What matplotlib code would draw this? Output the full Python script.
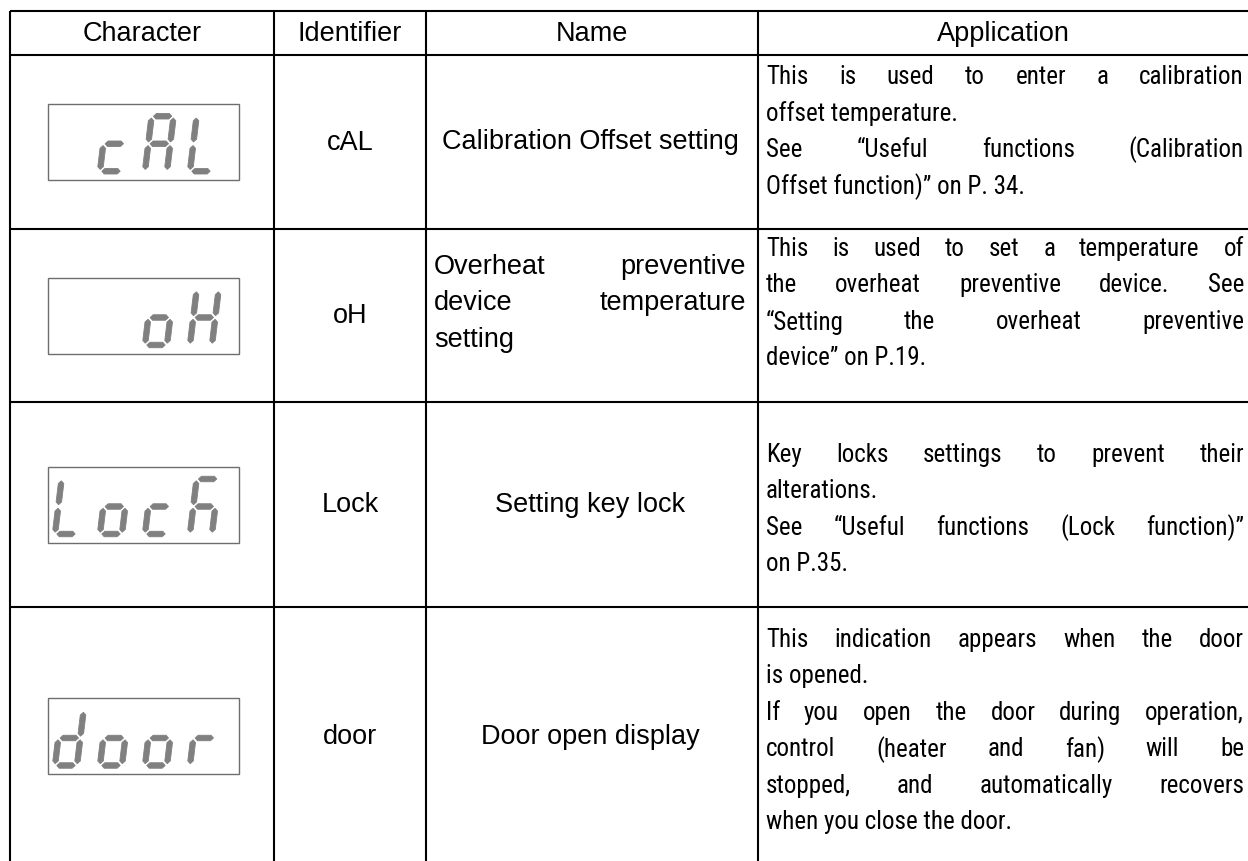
import matplotlib.pyplot as plt
from matplotlib.patches import Polygon, Rectangle
from matplotlib import font_manager

W, H = 1248, 862

# ---------------- table content ----------------
headers = ["Character", "Identifier", "Name", "Application"]
identifiers = ["cAL", "oH", "Lock", "door"]
# what the 4-digit 7-segment display shows (space = blank digit)
display_chars = [" cAL", "  oH", "Lock", "door"]
names = [
    [["Calibration Offset setting"]],
    [["Overheat preventive", "device temperature", "setting"]],
    [["Setting key lock"]],
    [["Door open display"]],
]
applications = [
    [["This is used to enter a calibration", "offset temperature."],
     ["See \u201cUseful functions (Calibration", "Offset function)\u201d on P. 34."]],
    [["This is used to set a temperature of", "the overheat preventive device. See",
      "\u201cSetting the overheat preventive", "device\u201d on P.19."]],
    [["Key locks settings to prevent their", "alterations."],
     ["See \u201cUseful functions (Lock function)\u201d", "on P.35."]],
    [["This indication appears when the door", "is opened."],
     ["If you open the door during operation,", "control (heater and fan) will be",
      "stopped, and automatically recovers", "when you close the door."]],
]

# segments lit for each glyph ("k" is the h-like k of "Lock")
SEGMENTS = {
    "c": "deg", "A": "abcefg", "L": "def", "o": "cdeg",
    "H": "bcefg", "k": "acefg", "d": "bcdeg", "r": "eg", " ": "",
}

# ---------------- layout ----------------
col_x = [10, 274, 426, 758, 1260]
row_y = [12, 55.5, 230, 403, 608, 866]
app_first_y = [77, 249, 455, 640]
name_first_y = [142, 267, 505, 737]
LINE = 36.5
FS = 19.5
SEG_COLOR = "#808080"

fig = plt.figure(figsize=(W / 100, H / 100), dpi=100)
ax = fig.add_axes([0, 0, 1, 1])
ax.set_xlim(0, W)
ax.set_ylim(H, 0)
ax.axis("off")

avail = {f.name for f in font_manager.fontManager.ttflist}
narrow, FS_APP = "Liberation Sans", 17.5
for cand, fs in [("Liberation Sans Narrow", 19.5), ("Arial Narrow", 19.5), ("Nimbus Sans Narrow", 19.5),
                 ("Roboto Condensed", 18.0), ("Archivo Narrow", 18.5)]:
    if cand in avail:
        narrow, FS_APP = cand, fs
        break
body = "Liberation Sans"

# grid lines
for y in row_y[:-1]:
    ax.plot([col_x[0], W + 10], [y, y], color="black", lw=1.5, solid_capstyle="butt")
for x in col_x[:-1]:
    ax.plot([x, x], [row_y[0], H + 10], color="black", lw=1.5, solid_capstyle="butt")

renderer = fig.canvas.get_renderer()


def text_width(s, family, fs):
    t = ax.text(0, 0, s, fontsize=fs, family=family)
    w = t.get_window_extent(renderer).width
    t.remove()
    return w


def draw_paragraphs(paras, x0, x1, y, family, fs, center_single=False):
    lines = [(ln, i == len(p) - 1) for p in paras for i, ln in enumerate(p)]
    n = len(lines)
    for ln, last in lines:
        if n == 1 and center_single:
            ax.text((x0 + x1) / 2, y, ln, fontsize=fs, family=family, ha="center", va="center")
        elif last:
            ax.text(x0, y, ln, fontsize=fs, family=family, ha="left", va="center")
        else:
            # justified line: spread the words over the cell width
            words = ln.split(" ")
            ws = [text_width(w, family, fs) for w in words]
            gap = (x1 - x0 - sum(ws)) / (len(words) - 1)
            x = x0
            for w, wd in zip(words, ws):
                ax.text(x, y, w, fontsize=fs, family=family, ha="left", va="center")
                x += wd + gap
        y += LINE


def draw_digit(ch, xl, yb, w=22, h=55, t=5.5, slant=0.12, g=1.8):
    segs = SEGMENTS[ch]
    ht = t / 2

    def hseg(yy):
        xa, xb = g, w - g
        return [(xa, yy), (xa + ht, yy + ht), (xb - ht, yy + ht), (xb, yy), (xb - ht, yy - ht), (xa + ht, yy - ht)]

    def vseg(xx, ya, yb2):
        ya, yb2 = ya + g, yb2 - g
        return [(xx, ya), (xx + ht, ya + ht), (xx + ht, yb2 - ht), (xx, yb2), (xx - ht, yb2 - ht), (xx - ht, ya + ht)]

    shapes = {
        "a": hseg(h), "g": hseg(h / 2), "d": hseg(0),
        "f": vseg(0, h / 2, h), "e": vseg(0, 0, h / 2),
        "b": vseg(w, h / 2, h), "c": vseg(w, 0, h / 2),
    }
    for s in segs:
        pts = [(xl + x + slant * y, yb - y) for x, y in shapes[s]]
        ax.add_patch(Polygon(pts, closed=True, facecolor=SEG_COLOR, edgecolor=SEG_COLOR, lw=0.6))


# header
for i, htxt in enumerate(headers):
    ax.text((col_x[i] + col_x[i + 1]) / 2 if i < 3 else 1003, (row_y[0] + row_y[1]) / 2, htxt,
            fontsize=FS, family=body, ha="center", va="center")

for r in range(4):
    yt, ybt = row_y[r + 1], row_y[r + 2]
    yc = (yt + ybt) / 2
    # display box
    bx0, bx1 = 48, 239
    by0 = yc - 38
    ax.add_patch(Rectangle((bx0, by0), bx1 - bx0, 76, fill=False, edgecolor="#6e6e6e", lw=1.0))
    for k, ch in enumerate(display_chars[r]):
        draw_digit(ch, 55 + 45 * k, by0 + 67.5)
    ax.text((col_x[1] + col_x[2]) / 2, yc, identifiers[r], fontsize=FS, family=body,
            ha="center", va="center")
    draw_paragraphs(names[r], col_x[2] + 8, col_x[3] - 12, name_first_y[r], body, FS, center_single=True)
    draw_paragraphs(applications[r], col_x[3] + 8, 1244, app_first_y[r], narrow, FS_APP)

fig.savefig("out.png", dpi=100)
